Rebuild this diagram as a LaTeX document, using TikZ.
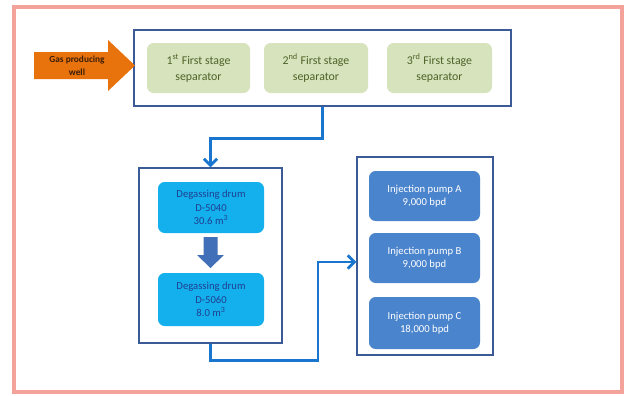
\documentclass[tikz,border=0pt]{standalone}
\usepackage{fontspec}
\setmainfont{Carlito}
\usetikzlibrary{arrows.meta,calc}
\definecolor{pinkb}{HTML}{F4A39A}
\definecolor{contb}{HTML}{3A5A98}
\definecolor{sepfill}{HTML}{D6E3BC}
\definecolor{septext}{HTML}{4F6228}
\definecolor{drumfill}{HTML}{14B0EE}
\definecolor{drumtext}{HTML}{1F3F8F}
\definecolor{pumpfill}{HTML}{4A84CC}
\definecolor{connc}{HTML}{1A75CF}
\definecolor{wellc}{HTML}{E8720C}
\definecolor{welltext}{HTML}{3B1E08}
\definecolor{downc}{HTML}{4270B8}
\tikzset{
  container/.style={draw=contb, line width=1.1pt, fill=white, inner sep=0pt},
  sepbox/.style={fill=sepfill, rounded corners=5pt, text=septext, align=center,
    inner sep=0pt, font=\fontsize{8.9}{12}\selectfont},
  drumbox/.style={fill=drumfill, rounded corners=5pt, text=drumtext, align=center,
    inner sep=0pt, font=\fontsize{8}{10}\selectfont},
  pumpbox/.style={fill=pumpfill, rounded corners=5pt, text=white, align=center,
    inner sep=0pt, font=\fontsize{8}{9.5}\selectfont},
  conn/.style={draw=connc, line width=2.2pt, -{Straight Barb[length=5pt,width=10pt,line width=2pt]}},
}
\begin{document}
\begin{tikzpicture}[x=0.75pt,y=-0.75pt]
\useasboundingbox (0,0) rectangle (626,396);
\fill[white] (0,0) rectangle (626,396);
% outer pink frame
\draw[pinkb, line width=3pt] (14,7) rectangle (622,392);

% top container
\node[container, minimum width=377*0.75pt, minimum height=76*0.75pt] (topbox) at (322.5,68) {};
\node[sepbox, minimum width=103*0.75pt, minimum height=50*0.75pt] (sep1) at (198.5,68) {1\textsuperscript{st} First stage\\separator};
\node[sepbox, minimum width=104*0.75pt, minimum height=50*0.75pt] (sep2) at (316,68) {2\textsuperscript{nd} First stage\\separator};
\node[sepbox, minimum width=105*0.75pt, minimum height=50*0.75pt] (sep3) at (439.5,68) {3\textsuperscript{rd} First stage\\separator};

% gas producing well arrow
\fill[wellc] (34,52) -- (108,52) -- (108,40) -- (135,65.5) -- (108,91) -- (108,79) -- (34,79) -- cycle;
\node[text=welltext, align=center, font=\bfseries\fontsize{7}{9.8}\selectfont, inner sep=0pt] (well) at (77,65.5) {Gas producing\\well};

% left container with degassing drums
\node[container, minimum width=143*0.75pt, minimum height=175*0.75pt] (lbox) at (210.5,255.5) {};
\node[drumbox, minimum width=106*0.75pt, minimum height=51*0.75pt] (drum1) at (211,207.5) {Degassing drum\\D-5040\\30.6 m\textsuperscript{3}};
\node[drumbox, minimum width=106*0.75pt, minimum height=53*0.75pt] (drum2) at (211,299.5) {Degassing drum\\D-5060\\8.0 m\textsuperscript{3}};
\fill[downc] (203.5,237) -- (217.5,237) -- (217.5,255) -- (224,255) -- (210.5,268) -- (197,255) -- (203.5,255) -- cycle;

% right container with pumps
\node[container, minimum width=136*0.75pt, minimum height=198*0.75pt] (rbox) at (425,256) {};
\node[pumpbox, minimum width=111*0.75pt, minimum height=50*0.75pt] (pumpA) at (424.5,196) {Injection pump A\\9,000 bpd};
\node[pumpbox, minimum width=111*0.75pt, minimum height=50*0.75pt] (pumpB) at (424.5,258) {Injection pump B\\9,000 bpd};
\node[pumpbox, minimum width=111*0.75pt, minimum height=52*0.75pt] (pumpC) at (424.5,323) {Injection pump C\\18,000 bpd};

% connectors
\draw[conn] (topbox.south) -- ++(0,32) -| (lbox.north);
\coordinate (bend) at (318,262);
\draw[conn] (lbox.south) -- ++(0,17) -| (bend) -- (bend -| rbox.west);
\end{tikzpicture}
\end{document}
